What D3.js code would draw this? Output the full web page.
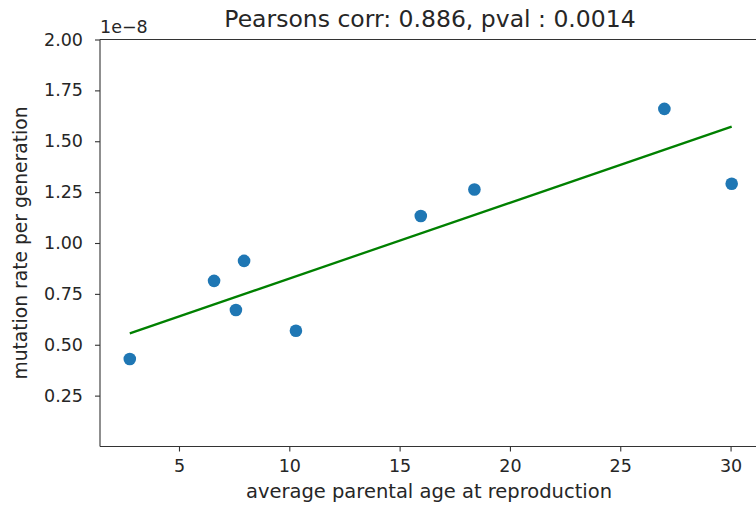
<!DOCTYPE html>
<html>
<head>
<meta charset="utf-8">
<script src="https://cdn.jsdelivr.net/npm/d3@7"></script>
<style>
  body { margin: 0; background: #fff; }
  svg { display: block; font-family: "DejaVu Sans", sans-serif; }
  .tick text { fill: #262626; }
</style>
</head>
<body>
<svg id="chart" width="756" height="505"></svg>
<script>
// average parental age at reproduction
var ages = [2.77, 6.59, 7.58, 7.95, 10.30, 15.96, 18.39, 27.00, 30.05];
// mutation rate per generation, in units of 1e-8
var rates = [0.430, 0.814, 0.671, 0.912, 0.569, 1.133, 1.263, 1.659, 1.291];
// regression line end points
var fitAges = [2.77, 30.05];
var fitRates = [0.556, 1.572];
var xTicks = [5, 10, 15, 20, 25, 30];
var yTicks = [0.25, 0.50, 0.75, 1.00, 1.25, 1.50, 1.75, 2.00];
var title = "Pearsons corr: 0.886, pval : 0.0014";

var margin = {left: 100, top: 39.5, right: 763, bottom: 446.5};
var svg = d3.select('#chart');

var x = d3.scaleLinear().domain([1.42, 31.47]).range([margin.left, margin.right]);
var y = d3.scaleLinear().domain([0, 2]).range([margin.bottom, margin.top]);

// axes
var xAxis = svg.append('g')
  .attr('transform', 'translate(0,' + margin.bottom + ')')
  .call(d3.axisBottom(x).tickValues(xTicks).tickSize(5).tickPadding(8).tickFormat(d3.format('d')));
var yAxis = svg.append('g')
  .attr('transform', 'translate(' + margin.left + ',0)')
  .call(d3.axisLeft(y).tickValues(yTicks).tickSize(5).tickPadding(12).tickFormat(d3.format('.2f')));

[xAxis, yAxis].forEach(function(a) {
  a.selectAll('text').style('font-size', '17.5px').style('font-family', '"DejaVu Sans", sans-serif');
  a.selectAll('line').attr('stroke', '#333').attr('stroke-width', 1.1);
  a.select('.domain').attr('stroke', '#333').attr('stroke-width', 1.1);
});
// domain path has outer ticks by default; redraw as plain spines
xAxis.select('.domain').attr('d', 'M' + margin.left + ',0H' + margin.right);
yAxis.select('.domain').attr('d', 'M0,' + margin.bottom + 'V' + margin.top);

// top spine
svg.append('line')
  .attr('x1', margin.left).attr('x2', margin.right)
  .attr('y1', margin.top).attr('y2', margin.top)
  .attr('stroke', '#333').attr('stroke-width', 1.1);

// offset text
svg.append('text')
  .attr('x', margin.left).attr('y', margin.top - 7)
  .style('font-size', '17.5px').attr('fill', '#262626')
  .text('1e\u22128');

// regression line
var line = d3.line()
  .x(function(d, i) { return x(fitAges[i]); })
  .y(function(d) { return y(d); });
svg.append('path')
  .datum(fitRates)
  .attr('d', line)
  .attr('fill', 'none')
  .attr('stroke', '#008000')
  .attr('stroke-width', 2.3);

// points
svg.selectAll('circle.pt')
  .data(ages)
  .enter()
  .append('circle')
  .attr('class', 'pt')
  .attr('cx', function(d) { return x(d); })
  .attr('cy', function(d, i) { return y(rates[i]); })
  .attr('r', 6.3)
  .attr('fill', '#1f77b4');

// title & labels
svg.append('text')
  .attr('x', 430).attr('y', 27)
  .attr('text-anchor', 'middle')
  .style('font-size', '23.5px').attr('fill', '#262626')
  .text(title);
svg.append('text')
  .attr('x', 429).attr('y', 498)
  .attr('text-anchor', 'middle')
  .style('font-size', '19.5px').attr('fill', '#262626')
  .text('average parental age at reproduction');
svg.append('text')
  .attr('transform', 'translate(27,243) rotate(-90)')
  .attr('text-anchor', 'middle')
  .style('font-size', '18.7px').attr('fill', '#262626')
  .text('mutation rate per generation');
</script>
</body>
</html>
